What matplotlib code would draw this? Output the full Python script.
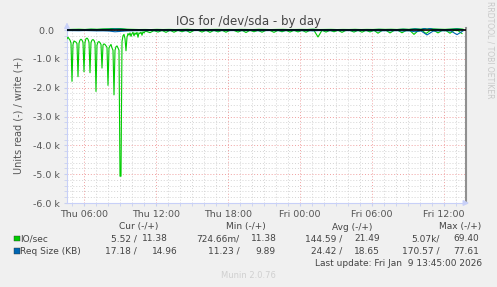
import matplotlib
matplotlib.use("Agg")
import matplotlib.pyplot as plt
import pandas as pd
from matplotlib.ticker import FixedLocator, MultipleLocator
from matplotlib.patches import Rectangle

W, H = 497, 287

# IO/sec read (negative), 5-min samples from Thu 04:35
read_early = [-300, -250, -300, -350, -450, -1780, -500, -380, -400, -420,
              -470, -1620, -450, -350, -320, -350, -420, -1450, -420, -300,
              -280, -320, -420, -1480, -430, -350, -330, -360, -450, -2130,
              -520, -420, -400, -440, -500, -1320, -520, -480, -500, -550,
              -600, -1920, -620, -550, -500, -620, -700, -2250, -700, -580,
              -550, -620, -700, -5070, -5070, -400, -200, -150, -300, -720,
              -250, -120, -180, -100, -220, -120, -80, -200, -100, -150,
              -80, -250, -100, -120, -70, -180, -60, -100, -50]
# IO/sec read, 20-min samples from Thu 11:10
read_tail = [-40, -90, -20, -70, -15, -80, -10, -75, -10, -60,
             -10, -85, -15, -10, -70, -10, -80, -10, -65, -10,
             -75, -10, -15, -70, -10, -85, -10, -60, -10, -75,
             -10, -15, -80, -10, -60, -10, -70, -10, -65, -10,
             -75, -10, -15, -240, -10, -70, -10, -60, -10, -80,
             -10, -15, -70, -10, -75, -10, -65, -10, -110, -15,
             -10, -100, -15, -10, -95, -15, -20, -150, -30, -15,
             -120, -20, -15, -100, -15, -20, -110, -15, -20, -120]
# 30-min samples from Thu 04:35
io_write = [20, 25, 30, 22, 35, 28, 40, 45, 60, 50, 30, 25, 20, 22, 18, 25, 20,
            24, 19, 22, 26, 20, 18, 23, 21, 25, 20, 22, 19, 24, 21, 20, 26, 22,
            19, 23, 25, 20, 21, 24, 22, 30, 20, 22, 25, 19, 23, 21, 26, 20, 24,
            22, 30, 25, 28, 22, 35, 26, 45, 30, 69, 40, 30, 25, 35, 50, 30]
req_read = [-20, -22, -25, -18, -24, -30, -28, -35, -60, -45, -30, -25, -20, -22,
            -18, -25, -20, -24, -19, -22, -26, -20, -18, -23, -21, -25, -20, -22,
            -19, -24, -21, -20, -26, -22, -19, -23, -25, -20, -21, -24, -22, -30,
            -20, -22, -25, -19, -23, -21, -26, -20, -24, -22, -30, -25, -28, -22,
            -35, -26, -60, -30, -170, -40, -30, -25, -35, -160, -30]
req_write = [15, 18, 14, 16, 20, 17, 22, 25, 40, 30, 18, 15, 14, 16, 13, 15, 14,
             16, 13, 15, 17, 14, 13, 15, 14, 16, 14, 15, 13, 16, 14, 14, 17, 15,
             13, 15, 16, 14, 14, 16, 15, 20, 14, 15, 16, 13, 15, 14, 17, 14, 16,
             15, 20, 16, 18, 15, 25, 17, 40, 20, 78, 25, 20, 16, 22, 35, 15]

t_early = pd.date_range("2026-01-08 04:35", periods=len(read_early), freq="5min")
t_tail = pd.date_range("2026-01-08 11:10", periods=len(read_tail), freq="20min")
t_half = pd.date_range("2026-01-08 04:35", periods=len(io_write), freq="30min")
t_req = pd.date_range("2026-01-08 04:35", periods=len(req_read), freq="30min")

x_ticks = pd.date_range("2026-01-08 06:00", periods=6, freq="6h")
x_labels = ["Thu 06:00", "Thu 12:00", "Thu 18:00", "Fri 00:00", "Fri 06:00", "Fri 12:00"]
y_ticks = [0, -1000, -2000, -3000, -4000, -5000, -6000]
y_labels = ["0.0  ", "-1.0 k", "-2.0 k", "-3.0 k", "-4.0 k", "-5.0 k", "-6.0 k"]

green, blue = "#00cc00", "#0066b3"

fig = plt.figure(figsize=(W / 100, H / 100), dpi=100, facecolor="#f0f0f0")
ax = fig.add_axes([67 / W, 84 / H, 399 / W, 174.7 / H], facecolor="white")

read_t = list(t_early) + list(t_tail)
read_v = read_early + read_tail
ax.plot(read_t, read_v, color=green, lw=0.8, zorder=3)
ax.plot(t_half, io_write, color=green, lw=0.8, zorder=3)
ax.plot(t_req, req_read, color=blue, lw=0.8, zorder=4)
ax.plot(t_req, req_write, color=blue, lw=0.8, zorder=4)
ax.axhline(0, color="black", lw=1.2, zorder=5)

ax.set_xlim(pd.Timestamp("2026-01-08 04:35"), pd.Timestamp("2026-01-09 13:50"))
ax.set_ylim(-6000, 60)

ax.xaxis.set_major_locator(FixedLocator(matplotlib.dates.date2num(x_ticks)))
ax.xaxis.set_minor_locator(matplotlib.dates.HourLocator())
ax.set_xticklabels(x_labels)
ax.yaxis.set_major_locator(FixedLocator(y_ticks))
ax.yaxis.set_minor_locator(MultipleLocator(200))
ax.set_yticklabels(y_labels)

ax.grid(which="minor", color="#d4d4d4", lw=0.7, ls=(0, (1, 2)), zorder=1)
ax.grid(which="major", color="#f0a0a0", lw=0.7, ls=(0, (1, 2)), zorder=2)
ax.tick_params(which="both", colors="#c8d0f0", length=2, labelcolor="#555555",
               labelsize=6.8, pad=3)

ax.spines["top"].set_visible(False)
ax.spines["left"].set_color("#c8d0f8")
ax.spines["bottom"].set_color("#c8d0f8")
ax.spines["right"].set_color("#909090")
ax.spines["right"].set_linewidth(1.5)

# axis arrows
ax.annotate("", xy=(1.015, 0), xytext=(0.99, 0), xycoords="axes fraction",
            arrowprops=dict(arrowstyle="-|>", color="#c8d0f8", lw=1, mutation_scale=8))
ax.annotate("", xy=(0, 1.05), xytext=(0, 0.98), xycoords="axes fraction",
            arrowprops=dict(arrowstyle="-|>", color="#c8d0f8", lw=1, mutation_scale=8))

ax.set_ylabel("Units read (-) / write (+)", fontsize=7, color="#555555", labelpad=7)


def fx(x):
    return x / W


def fy(y):
    return 1 - y / H


fig.text(fx(248), fy(21), "IOs for /dev/sda - by day", ha="center", va="center",
         fontsize=8.5, color="#444444")
fig.text(fx(490), fy(50), "RRDTOOL / TOBI OETIKER", rotation=270, ha="center",
         va="center", fontsize=5.5, color="#c8c8c8")

txt = dict(fontsize=6.5, color="#444444", va="center")
fig.text(fx(139), fy(227), "Cur (-/+)", ha="center", **txt)
fig.text(fx(246), fy(227), "Min (-/+)", ha="center", **txt)
fig.text(fx(352), fy(227), "Avg (-/+)", ha="center", **txt)
fig.text(fx(460), fy(227), "Max (-/+)", ha="center", **txt)

rows = [
    (238.5, green, "IO/sec",
     [(137, "5.52 /"), (168, "11.38"), (239, "724.66m/"), (277, "11.38"),
      (342, "144.59 /"), (380, "21.49"), (440, "5.07k/"), (479, "69.40")]),
    (251, blue, "Req Size (KB)",
     [(137, "17.18 /"), (178, "14.96"), (240, "11.23 /"), (276, "9.89"),
      (342, "24.42 /"), (380, "18.65"), (440, "170.57 /"), (479, "77.61")]),
]
for y, col, name, cells in rows:
    fig.patches.append(Rectangle((fx(14), fy(y + 2.8)), 5.5 / W, 5.5 / H,
                                 transform=fig.transFigure, facecolor=col,
                                 edgecolor="#333333", lw=0.3))
    fig.text(fx(20.5), fy(y), name, ha="left", **txt)
    for xr, s in cells:
        fig.text(fx(xr), fy(y), s, ha="right", **txt)

fig.text(fx(482), fy(263.5), "Last update: Fri Jan  9 13:45:00 2026", ha="right", **txt)
fig.text(fx(248), fy(275), "Munin 2.0.76", ha="center", va="center",
         fontsize=6, color="#d0d0d0")

fig.savefig("out.png", dpi=100, facecolor=fig.get_facecolor())
